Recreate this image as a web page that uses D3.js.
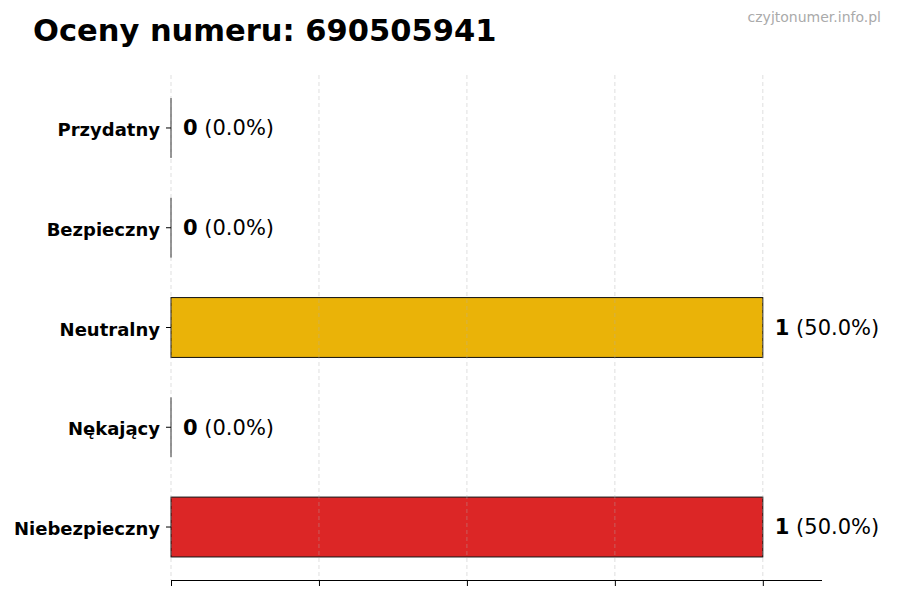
<!DOCTYPE html>
<html>
<head>
<meta charset="utf-8">
<script src="https://cdn.jsdelivr.net/npm/d3@7/dist/d3.min.js"></script>
<style>
  body { margin: 0; background: #fff; }
  text { font-family: "DejaVu Sans", sans-serif; }
</style>
</head>
<body>
<script>
var categories = ["Przydatny", "Bezpieczny", "Neutralny", "Nękający", "Niebezpieczny"];
var counts = [0, 0, 1, 0, 1];
var colors = ["#16a34a", "#2563eb", "#eab308", "#ea580c", "#dc2626"];
var xTicks = [0, 0.25, 0.5, 0.75, 1.0];

var width = 900, height = 600;
var total = d3.sum(counts);

var svg = d3.select("body").append("svg")
            .attr("width", width)
            .attr("height", height);

var x = d3.scaleLinear().domain([0, 1.1]).range([171, 822]);
var y = d3.scaleBand().domain(categories).range([75, 580])
          .paddingInner(0.4).paddingOuter(0.231);

// title + watermark
svg.append("text")
   .attr("x", 33).attr("y", 41)
   .attr("font-size", "30.5px").attr("font-weight", "bold")
   .text("Oceny numeru: 690505941");

svg.append("text")
   .attr("x", 881).attr("y", 22)
   .attr("text-anchor", "end")
   .attr("font-size", "14px").attr("fill", "#aaaaaa")
   .text("czyjtonumer.info.pl");

// bars
var bars = svg.selectAll("g.bar")
              .data(categories)
              .enter()
              .append("g").attr("class", "bar");

bars.append("rect")
    .attr("x", x(0))
    .attr("y", function(d) { return y(d); })
    .attr("width", function(d, i) { return x(counts[i]) - x(0); })
    .attr("height", y.bandwidth())
    .attr("fill", function(d, i) { return colors[i]; })
    .attr("stroke", "#111")
    .attr("stroke-width", 1);

// zero-width bars still show their edge
bars.filter(function(d, i) { return counts[i] === 0; })
    .append("line")
    .attr("x1", x(0)).attr("x2", x(0))
    .attr("y1", function(d) { return y(d); })
    .attr("y2", function(d) { return y(d) + y.bandwidth(); })
    .attr("stroke", "#222").attr("stroke-width", 1);

// grid (drawn over bars, faint)
svg.selectAll("line.grid")
   .data(xTicks)
   .enter()
   .append("line").attr("class", "grid")
   .attr("x1", function(d) { return x(d); })
   .attr("x2", function(d) { return x(d); })
   .attr("y1", 75).attr("y2", 580)
   .attr("stroke", "#b0b0b0")
   .attr("stroke-opacity", 0.5)
   .attr("stroke-dasharray", "4,3")
   .attr("stroke-width", 0.8);

// value labels
var labels = svg.selectAll("text.val")
                .data(categories)
                .enter()
                .append("text").attr("class", "val")
                .attr("x", function(d, i) { return x(counts[i]) + 12; })
                .attr("y", function(d) { return y(d) + y.bandwidth() / 2; })
                .attr("dy", "0.35em")
                .attr("font-size", "21px")
                .attr("fill", "#000");

labels.append("tspan")
      .attr("font-weight", "bold")
      .text(function(d, i) { return counts[i]; });
labels.append("tspan")
      .text(function(d, i) {
        return " (" + (100 * counts[i] / total).toFixed(1) + "%)";
      });

// axes
var xAxis = d3.axisBottom(x).tickValues(xTicks).tickFormat("").tickSizeOuter(0).tickSize(6);
var gx = svg.append("g").attr("transform", "translate(0,580)").call(xAxis);
gx.select(".domain").attr("stroke", "#000").attr("d", "M" + x(0) + ",0.5H" + x(1.1));

var yAxis = d3.axisLeft(y).tickSize(5).tickPadding(6).tickSizeOuter(0);
var gy = svg.append("g").attr("transform", "translate(" + x(0) + ",0)").call(yAxis);
gy.select(".domain").remove();
gy.selectAll("text")
  .attr("font-size", "18px")
  .attr("font-weight", "bold")
  .attr("font-family", "DejaVu Sans, sans-serif")
  .attr("dy", "0.45em")
  .attr("fill", "#000");
</script>
</body>
</html>
